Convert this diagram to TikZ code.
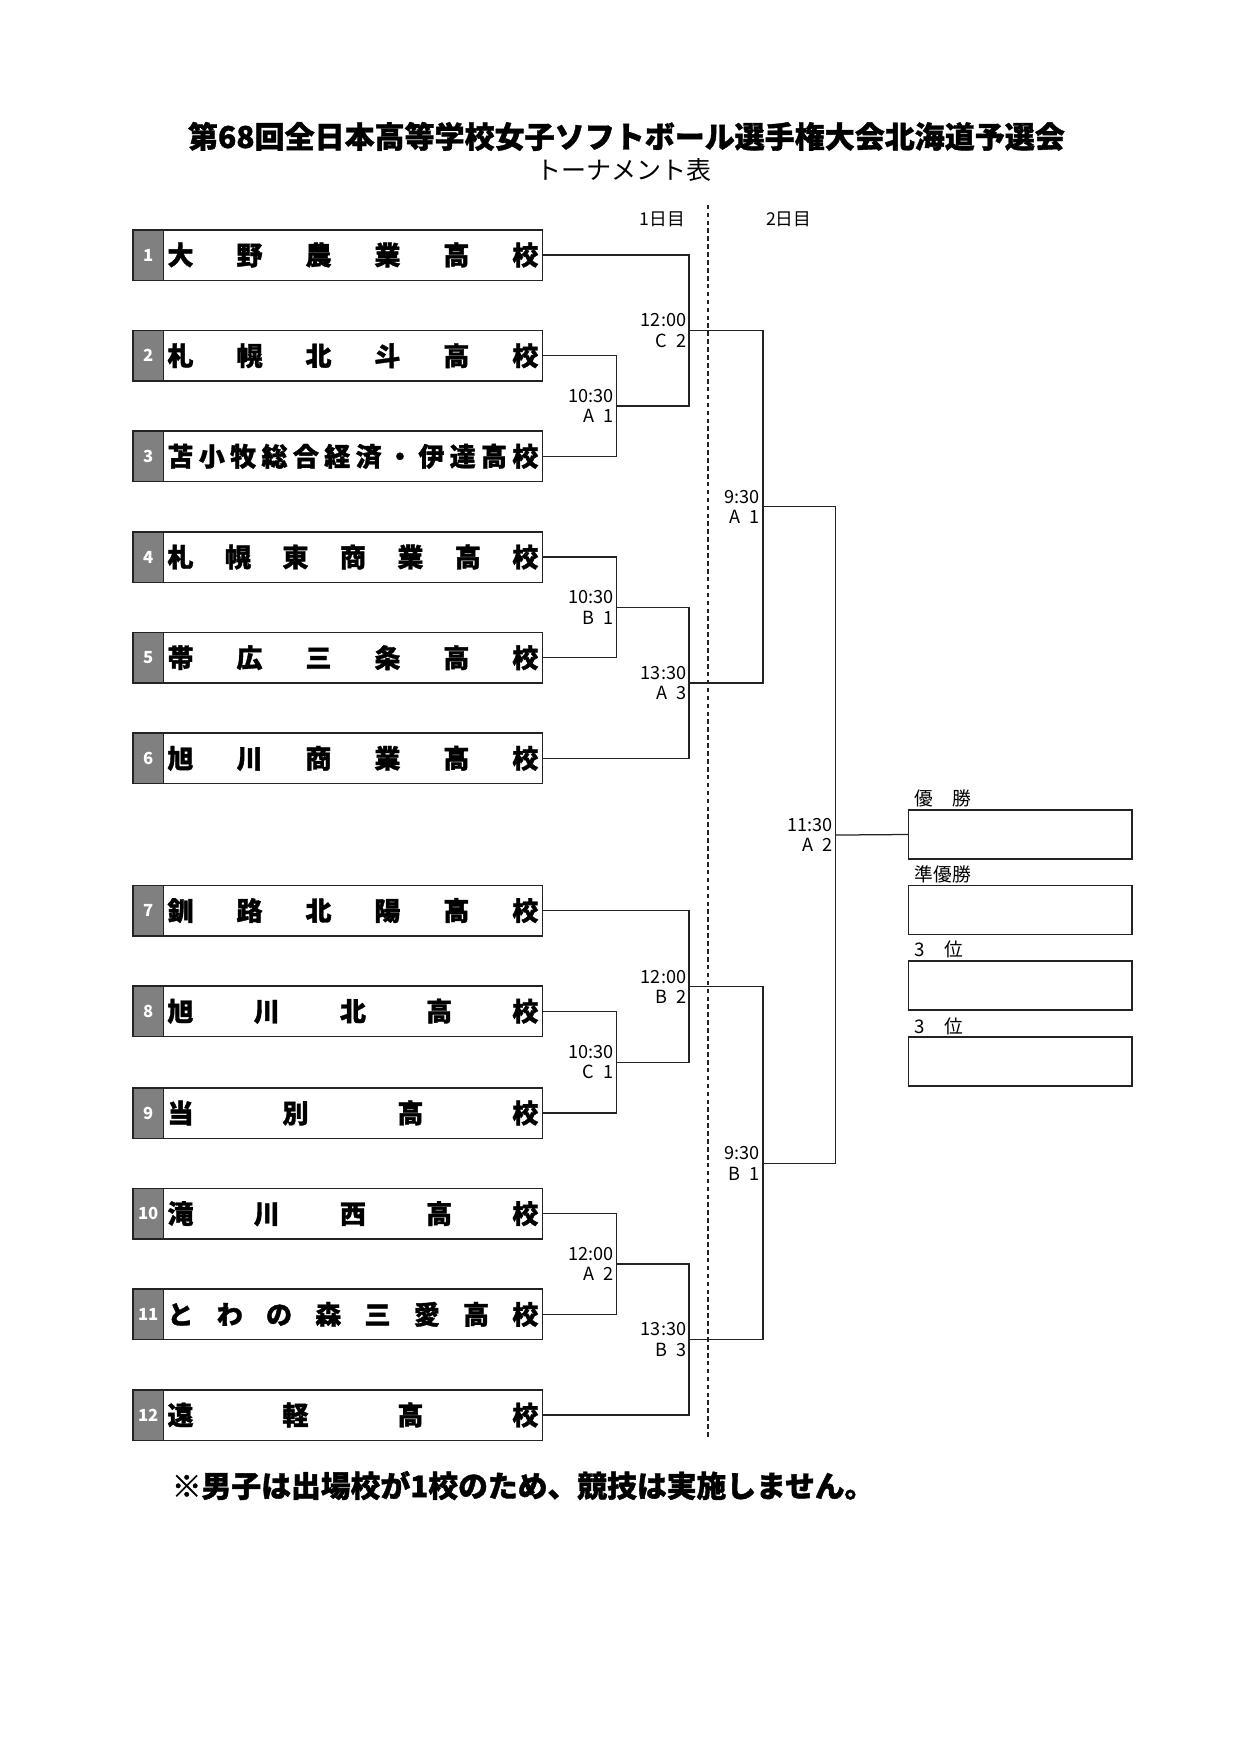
\documentclass[tikz,border=0pt]{standalone}
\usepackage{fontspec}
\newfontfamily\jp{Noto Sans CJK JP}
\newfontfamily\jpheavy[BoldFeatures={FakeBold=1.3}]{Noto Sans CJK JP}
\definecolor{numgray}{RGB}{128,128,128}
\definecolor{lineblack}{RGB}{35,35,35}
\usetikzlibrary{positioning}
\tikzset{
  numcell/.style={draw=lineblack, fill=numgray, line width=0.7pt, minimum width=14.5pt, minimum height=24.2pt, inner sep=0pt, outer sep=0pt, text=white, font=\jp\bfseries\fontsize{8}{8}\selectfont},
  namebox/.style={draw=lineblack, line width=0.7pt, minimum width=182pt, minimum height=24.2pt, inner sep=0pt, outer sep=0pt, font=\jpheavy\bfseries\fontsize{12.5}{12.5}\selectfont},
  resbox/.style={draw=lineblack, line width=0.7pt, minimum width=107.4pt, minimum height=23.6pt, inner sep=0pt, outer sep=0pt},
  reslabel/.style={font=\jp\fontsize{9}{9}\selectfont, inner sep=1pt},
  daylabel/.style={font=\jp\fontsize{8.5}{8.5}\selectfont, inner sep=1pt},
  timelabel/.style={anchor=east, align=right, font=\jp\fontsize{8.7}{9.7}\selectfont, inner sep=1.2pt},
  bracket/.style={draw=lineblack, line width=0.6pt}
}

\begin{document}
\begin{tikzpicture}[x=0.5368pt, y=-0.5368pt]
  \useasboundingbox (0,0) rectangle (1108,1568);
  % title
  \node[font=\jpheavy\bfseries\fontsize{14.4}{14.4}\selectfont] (title) at (560,122) {第68回全日本高等学校女子ソフトボール選手権大会北海道予選会};
  \node[font=\jp\fontsize{12}{12}\selectfont] (subtitle) at (558,152) {トーナメント表};
  \node[daylabel] (day1) at (592,196) {1日目};
  \node[daylabel] (day2) at (705,196) {2日目};
  \draw[lineblack, line width=0.6pt, dash pattern=on 2.2pt off 1.6pt] (633,183) -- (633,1285);

  % schools
  \node[numcell] (n1) at (132.5,228) {1};
  \node[namebox, right=0pt of n1] (s1) {\hbox to 178pt{大\hfill 野\hfill 農\hfill 業\hfill 高\hfill 校}};
  \node[numcell] (n2) at (132.5,318) {2};
  \node[namebox, right=0pt of n2] (s2) {\hbox to 178pt{札\hfill 幌\hfill 北\hfill 斗\hfill 高\hfill 校}};
  \node[numcell] (n3) at (132.5,408) {3};
  \node[namebox, right=0pt of n3] (s3) {\hbox to 178pt{苫\hfill 小\hfill 牧\hfill 総\hfill 合\hfill 経\hfill 済\hfill ・\hfill 伊\hfill 達\hfill 高\hfill 校}};
  \node[numcell] (n4) at (132.5,498) {4};
  \node[namebox, right=0pt of n4] (s4) {\hbox to 178pt{札\hfill 幌\hfill 東\hfill 商\hfill 業\hfill 高\hfill 校}};
  \node[numcell] (n5) at (132.5,588) {5};
  \node[namebox, right=0pt of n5] (s5) {\hbox to 178pt{帯\hfill 広\hfill 三\hfill 条\hfill 高\hfill 校}};
  \node[numcell] (n6) at (132.5,678) {6};
  \node[namebox, right=0pt of n6] (s6) {\hbox to 178pt{旭\hfill 川\hfill 商\hfill 業\hfill 高\hfill 校}};
  \node[numcell] (n7) at (132.5,814) {7};
  \node[namebox, right=0pt of n7] (s7) {\hbox to 178pt{釧\hfill 路\hfill 北\hfill 陽\hfill 高\hfill 校}};
  \node[numcell] (n8) at (132.5,904) {8};
  \node[namebox, right=0pt of n8] (s8) {\hbox to 178pt{旭\hfill 川\hfill 北\hfill 高\hfill 校}};
  \node[numcell] (n9) at (132.5,995) {9};
  \node[namebox, right=0pt of n9] (s9) {\hbox to 178pt{当\hfill 別\hfill 高\hfill 校}};
  \node[numcell] (n10) at (132.5,1085) {10};
  \node[namebox, right=0pt of n10] (s10) {\hbox to 178pt{滝\hfill 川\hfill 西\hfill 高\hfill 校}};
  \node[numcell] (n11) at (132.5,1175) {11};
  \node[namebox, right=0pt of n11] (s11) {\hbox to 178pt{と\hfill わ\hfill の\hfill 森\hfill 三\hfill 愛\hfill 高\hfill 校}};
  \node[numcell] (n12) at (132.5,1265) {12};
  \node[namebox, right=0pt of n12] (s12) {\hbox to 178pt{遠\hfill 軽\hfill 高\hfill 校}};

  % match points
  \coordinate (mA1) at (551,363);
  \coordinate (mC2) at (616,295.5);
  \coordinate (mB1) at (551,543);
  \coordinate (mA3) at (616,610.5);
  \coordinate (dA1) at (682,453);
  \coordinate (mC1) at (551,949.5);
  \coordinate (mB2) at (616,882);
  \coordinate (mA2) at (551,1130);
  \coordinate (mB3) at (616,1197.5);
  \coordinate (dB1) at (682,1040);
  \coordinate (fin) at (747,746.5);

  % brackets
  \draw[bracket] (s2.east) -| (mA1) |- (s3.east);
  \draw[bracket] (s1.east) -| (mC2) |- (mA1);
  \draw[bracket] (s4.east) -| (mB1) |- (s5.east);
  \draw[bracket] (mB1) -| (mA3) |- (s6.east);
  \draw[bracket] (mC2) -| (dA1) |- (mA3);
  \draw[bracket] (s8.east) -| (mC1) |- (s9.east);
  \draw[bracket] (s7.east) -| (mB2) |- (mC1);
  \draw[bracket] (s10.east) -| (mA2) |- (s11.east);
  \draw[bracket] (mA2) -| (mB3) |- (s12.east);
  \draw[bracket] (mB2) -| (dB1) |- (mB3);
  \draw[bracket] (dA1) -| (fin) |- (dB1);

  % times
  \node[timelabel] (tA1) at (mA1) {10:30\\A\enspace 1\hspace{2pt}};
  \node[timelabel] (tC2) at (mC2) {12:00\\C\enspace 2\hspace{2pt}};
  \node[timelabel] (tB1) at (mB1) {10:30\\B\enspace 1\hspace{2pt}};
  \node[timelabel] (tA3) at (mA3) {13:30\\A\enspace 3\hspace{2pt}};
  \node[timelabel] (tdA1) at (dA1) {9:30\\A\enspace 1\hspace{2pt}};
  \node[timelabel] (tC1) at (mC1) {10:30\\C\enspace 1\hspace{2pt}};
  \node[timelabel] (tB2) at (mB2) {12:00\\B\enspace 2\hspace{2pt}};
  \node[timelabel] (tA2) at (mA2) {12:00\\A\enspace 2\hspace{2pt}};
  \node[timelabel] (tB3) at (mB3) {13:30\\B\enspace 3\hspace{2pt}};
  \node[timelabel] (tdB1) at (dB1) {9:30\\B\enspace 1\hspace{2pt}};
  \node[timelabel] (tfin) at (fin) {11:30\\A\enspace 2\hspace{2pt}};

  % results
  \node[resbox] (win) at (912,746) {};
  \node[resbox] (second) at (912,813.5) {};
  \node[resbox] (third1) at (912,881) {};
  \node[resbox] (third2) at (912,949) {};
  \draw[bracket] (fin) -- (win.west);
  \node[reslabel, above right=0pt and 2pt of win.north west] (lwin) {優　勝};
  \node[reslabel, above right=0pt and 2pt of second.north west] (lsecond) {準優勝};
  \node[reslabel, above right=0pt and 2pt of third1.north west] (lthird1) {3　位};
  \node[reslabel, above right=0pt and 2pt of third2.north west] (lthird2) {3　位};

  % note
  \node[font=\jpheavy\bfseries\fontsize{14.3}{14.3}\selectfont, anchor=west] (note) at (147,1328) {※男子は出場校が1校のため、競技は実施しません。};
\end{tikzpicture}
\end{document}
